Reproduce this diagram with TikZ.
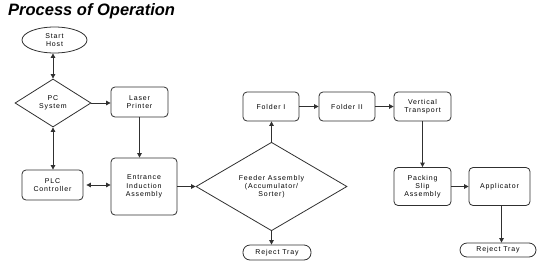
\documentclass[tikz,border=0pt]{standalone}
\usepackage{fontspec}
\setmainfont{Liberation Sans}
\newfontfamily\labelfont[LetterSpace=12]{Liberation Sans}
\newfontfamily\titlefont{Liberation Sans}
\usetikzlibrary{shapes.geometric,arrows.meta}
\definecolor{linecol}{HTML}{303030}
\tikzset{
  every node/.style={font=\labelfont\fontsize{7}{8.3}\selectfont, align=center, inner sep=0pt, text=black},
  box/.style={draw=linecol, line width=0.8pt, rounded corners=4pt, rectangle},
  decision/.style={draw=linecol, line width=0.8pt, diamond},
  terminal/.style={draw=linecol, line width=0.8pt, ellipse},
  trayshape/.style={draw=linecol, line width=0.8pt, rectangle, rounded corners=7pt},
  conn/.style={draw=linecol, line width=0.8pt, -{Triangle[length=4.5pt,width=4.5pt]}},
  biconn/.style={draw=linecol, line width=0.8pt, {Triangle[length=4.5pt,width=4.5pt]}-{Triangle[length=4.5pt,width=4.5pt]}},
}
\begin{document}
\begin{tikzpicture}[x=1pt,y=-1pt]
\useasboundingbox (0,0) rectangle (540,271);
\node[anchor=base west, font=\titlefont\fontsize{16.5}{18}\bfseries\itshape\selectfont] (title) at (8,15) {Process of Operation};

\node[terminal, minimum width=65pt, minimum height=26pt] (start) at (54.5,40) {Start\\Host};
\node[decision, minimum width=76pt, minimum height=48pt] (pc) at (53,103) {PC\\System};
\node[box, minimum width=57pt, minimum height=30pt] (laser) at (139.5,102) {Laser\\Printer};
\node[box, minimum width=61pt, minimum height=30pt] (plc) at (52.5,185) {PLC\\Controller};
\node[box, minimum width=66pt, minimum height=57pt] (entr) at (144,186.5) {Entrance\\Induction\\Assembly};
\node[decision, minimum width=151pt, minimum height=75pt] (feeder) at (271.5,186.5) {Feeder Assembly\\(Accumulator/\\Sorter)};
\node[box, minimum width=56pt, minimum height=29pt] (f1) at (271,106.5) {Folder I};
\node[box, minimum width=56pt, minimum height=29pt] (f2) at (347,106.5) {Folder II};
\node[box, minimum width=57pt, minimum height=29pt] (vt) at (422.5,106.5) {Vertical\\Transport};
\node[box, minimum width=57pt, minimum height=38pt] (pack) at (422.5,186.5) {Packing\\Slip\\Assembly};
\node[box, minimum width=61pt, minimum height=38pt] (appl) at (499.5,186.5) {Applicator};
\node[trayshape, minimum width=68pt, minimum height=15pt] (rej1) at (277,252.5) {Reject Tray};
\node[trayshape, minimum width=76pt, minimum height=14pt] (rej2) at (498,250) {Reject Tray};

\draw[biconn] (pc.north) -- (pc.north |- start.south);
\draw[biconn] (pc.south) -- (pc.south |- plc.north);
\draw[conn] (pc.east) -- (pc.east -| laser.west);
\draw[conn] (laser.south) -- (laser.south |- entr.north);
\draw[biconn, shorten <=3pt] (plc.east) -- (plc.east -| entr.west);
\draw[conn] (entr.east) -- (feeder.west);
\draw[conn] (feeder.north) -- (feeder.north |- f1.south);
\draw[conn] (f1.east) -- (f2.west);
\draw[conn] (f2.east) -- (vt.west);
\draw[conn] (vt.south) -- (pack.north);
\draw[conn] (pack.east) -- (pack.east -| appl.west);
\draw[conn] (feeder.south) -- (feeder.south |- rej1.north);
\draw[conn] ([xshift=2pt]appl.south) -- ([xshift=2pt]appl.south |- rej2.north);
\end{tikzpicture}
\end{document}
